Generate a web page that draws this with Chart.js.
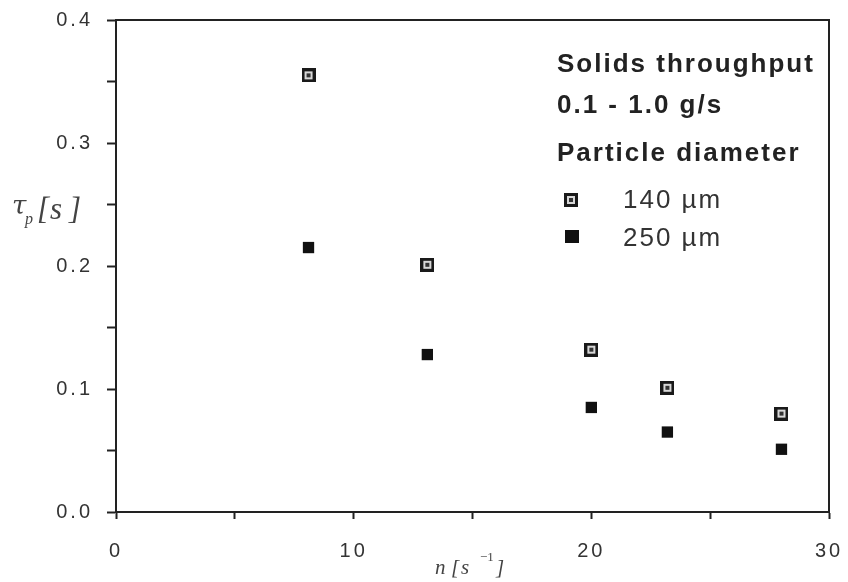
<!DOCTYPE html>
<html>
<head>
<meta charset="utf-8">
<script src="https://cdn.jsdelivr.net/npm/chart.js@4"></script>
<style>
  html, body { margin: 0; padding: 0; background: #fff; }
  #wrap { width: 848px; height: 582px; }
</style>
</head>
<body>
<div id="wrap"><canvas id="c"></canvas></div>
<script>
// rotational speed n [1/s]
const speed140 = [8.1, 13.1, 20.0, 23.2, 28.0];
const tau140 = [0.355, 0.201, 0.132, 0.101, 0.080];
const speed250 = [8.1, 13.1, 20.0, 23.2, 28.0];
const tau250 = [0.215, 0.128, 0.085, 0.065, 0.051];

const legendLines = ['Solids throughput', '0.1 - 1.0 g/s', 'Particle diameter'];
const seriesLabels = ['140 \u00b5m', '250 \u00b5m'];

function openMarker(size) {
  const cv = document.createElement('canvas');
  cv.width = size; cv.height = size;
  const g = cv.getContext('2d');
  g.fillStyle = '#1a1a1a';
  g.fillRect(0, 0, size, size);
  g.fillStyle = '#d8d8d8';
  g.fillRect(3, 3, size - 6, size - 6);
  g.fillStyle = '#333';
  g.fillRect(size / 2 - 2, size / 2 - 2, 4, 4);
  return cv;
}
const marker140 = openMarker(14);

const toPoints = (xs, ys) => xs.map((x, i) => ({ x, y: ys[i] }));

// wider tick lettering, only while drawing
const spacingPlugin = {
  id: 'spacing',
  beforeDraw(chart) { chart.ctx.letterSpacing = '3px'; },
  afterDraw(chart) { chart.ctx.letterSpacing = '0px'; },
};

const framePlugin = {
  id: 'frame',
  afterDraw(chart) {
    const { ctx, chartArea: a } = chart;
    ctx.save();
    ctx.strokeStyle = '#222';
    ctx.lineWidth = 2;
    ctx.strokeRect(a.left, a.top, a.right - a.left, a.bottom - a.top);

    // legend box text
    ctx.letterSpacing = '2px';
    ctx.fillStyle = '#222';
    ctx.textBaseline = 'middle';
    ctx.font = 'bold 26px "Liberation Sans", Arial, sans-serif';
    const lx = a.left + 441;
    ctx.fillText(legendLines[0], lx, 65);
    ctx.fillText(legendLines[1], lx, 106);
    ctx.fillText(legendLines[2], lx, 154);

    ctx.font = '26px "Liberation Sans", Arial, sans-serif';
    ctx.fillStyle = '#333';
    ctx.drawImage(marker140, lx + 7, 193, 14, 14);
    ctx.fillText(seriesLabels[0], lx + 66, 201);
    ctx.fillStyle = '#111';
    ctx.fillRect(lx + 8, 230, 14, 13);
    ctx.fillStyle = '#333';
    ctx.fillText(seriesLabels[1], lx + 66, 239);

    // axis titles
    ctx.letterSpacing = '0px';
    ctx.textBaseline = 'alphabetic';
    ctx.fillStyle = '#444';
    ctx.font = 'italic 26px "DejaVu Serif", "Liberation Serif", serif';
    ctx.fillText('\u03c4', 12, 214);
    ctx.font = 'italic 16px "Liberation Serif", serif';
    ctx.fillText('p', 25, 224);
    ctx.font = 'italic 31px "Liberation Serif", serif';
    ctx.fillText('[', 37, 219);
    ctx.fillText('s', 50, 219);
    ctx.fillText(']', 69, 219);

    ctx.font = 'italic 21px "Liberation Serif", serif';
    ctx.fillText('n', 435, 574);
    ctx.fillText('[', 451, 574);
    ctx.fillText('s', 461, 574);
    ctx.fillText(']', 496, 574);
    ctx.font = '13px "Liberation Serif", serif';
    ctx.fillText('\u22121', 480, 561);
    ctx.restore();
  }
};

new Chart(document.getElementById('c'), {
  type: 'scatter',
  data: {
    datasets: [
      {
        label: seriesLabels[0],
        data: toPoints(speed140, tau140),
        pointStyle: marker140,
        pointRadius: 7,
      },
      {
        label: seriesLabels[1],
        data: toPoints(speed250, tau250),
        pointStyle: 'rect',
        pointRadius: 8,
        backgroundColor: '#111',
        borderColor: '#111',
        borderWidth: 0,
      },
    ],
  },
  options: {
    responsive: true,
    maintainAspectRatio: false,
    animation: false,
    layout: { padding: { top: 20, right: 19, left: 0, bottom: 0 } },
    plugins: {
      legend: { display: false },
      tooltip: { enabled: false },
    },
    scales: {
      x: {
        type: 'linear',
        min: 0,
        max: 30,
        afterFit(scale) {
          scale.height = 70;
          scale.paddingLeft = 0;
          scale.paddingRight = 0;
        },
        border: { color: '#222', width: 2 },
        grid: { drawOnChartArea: false, tickLength: 7, tickColor: '#222', tickWidth: 2 },
        ticks: {
          stepSize: 5,
          color: '#333',
          padding: 20,
          font: { family: '"Liberation Sans", Arial, sans-serif', size: 20 },
          callback: (v) => (v % 10 === 0 ? String(v) : ''),
        },
      },
      y: {
        min: 0,
        max: 0.4,
        afterFit(scale) {
          scale.width = 116;
          scale.paddingTop = 0;
          scale.paddingBottom = 0;
        },
        border: { color: '#222', width: 2 },
        grid: { drawOnChartArea: false, tickLength: 9, tickColor: '#222', tickWidth: 2 },
        ticks: {
          stepSize: 0.05,
          color: '#333',
          padding: 14,
          font: { family: '"Liberation Sans", Arial, sans-serif', size: 20 },
          callback: (v) => {
            const r = Math.round(v * 100);
            return r % 10 === 0 ? (r / 100).toFixed(1) : '';
          },
        },
      },
    },
  },
  plugins: [spacingPlugin, framePlugin],
});
</script>
</body>
</html>
